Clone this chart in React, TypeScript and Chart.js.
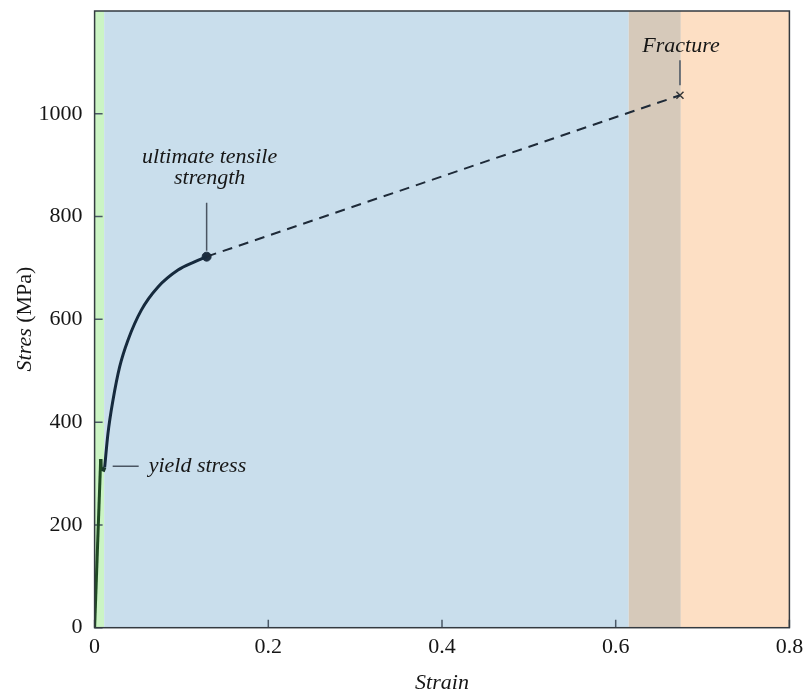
import React, { useEffect, useRef } from "react";
import { Chart, registerables } from "chart.js";

Chart.register(...registerables);

// ---- data ----
const xTickValues = [0, 0.2, 0.4, 0.6, 0.8];
const yTickValues = [0, 200, 400, 600, 800, 1000];
const bandEdges = [0, 0.011, 0.615, 0.675, 0.8];
const bandColors = ["#cbf4c4", "#c9deec", "#d6c9ba", "#fddfc4"];

const elasticStrain = [0, 0.007];
const elasticStress = [0, 328];

const yieldStrain = [0.007, 0.0074, 0.0104, 0.0116];
const yieldStress = [328, 309, 307, 312];

const hardeningStrain = [0.0116, 0.0154, 0.0212, 0.0289, 0.0385, 0.0538, 0.073, 0.096, 0.115, 0.129];
const hardeningStress = [312, 378, 443, 508, 560, 618, 663, 696, 712, 722];

const neckingStrain = [0.129, 0.674];
const neckingStress = [722, 1036];

const utsPoint = { strain: 0.129, stress: 722 };
const fracturePoint = { strain: 0.674, stress: 1036 };

const labelUts = ["ultimate tensile", "strength"];
const labelYield = "yield stress";
const labelFracture = "Fracture";
const xTitle = "Strain";
const yTitleItalic = "Stres";
const yTitleRoman = " (MPa)";

const FONT = "'Liberation Serif', 'DejaVu Serif', serif";
const TEXT = "#161616";

const toPts = (xs: number[], ys: number[]) => xs.map((x, i) => ({ x, y: ys[i] }));

const decorPlugin = {
  id: "decor",
  beforeDatasetsDraw(chart: any) {
    const { ctx, chartArea, scales } = chart;
    const xs = scales.x;
    ctx.save();
    for (let i = 0; i < bandColors.length; i++) {
      const x0 = xs.getPixelForValue(bandEdges[i]);
      const x1 = xs.getPixelForValue(bandEdges[i + 1]);
      ctx.fillStyle = bandColors[i];
      ctx.fillRect(x0, chartArea.top, x1 - x0, chartArea.bottom - chartArea.top);
    }
    // inward ticks
    ctx.strokeStyle = "#4a5866";
    ctx.lineWidth = 1.5;
    ctx.beginPath();
    yTickValues.forEach((v) => {
      const y = scales.y.getPixelForValue(v);
      ctx.moveTo(chartArea.left, y);
      ctx.lineTo(chartArea.left + 8, y);
    });
    xTickValues.forEach((v) => {
      const x = xs.getPixelForValue(v);
      ctx.moveTo(x, chartArea.bottom);
      ctx.lineTo(x, chartArea.bottom - 8);
    });
    ctx.stroke();
    ctx.restore();
  },
  afterDatasetsDraw(chart: any) {
    const { ctx, chartArea, scales } = chart;
    const xs = scales.x;
    const ys = scales.y;
    ctx.save();
    // frame
    ctx.strokeStyle = "#333a40";
    ctx.lineWidth = 1.5;
    ctx.strokeRect(chartArea.left, chartArea.top, chartArea.right - chartArea.left, chartArea.bottom - chartArea.top);

    // leaders
    ctx.strokeStyle = "#4a5562";
    ctx.lineWidth = 1.5;
    const ux = xs.getPixelForValue(utsPoint.strain);
    const uy = ys.getPixelForValue(utsPoint.stress);
    const fx = xs.getPixelForValue(fracturePoint.strain);
    const fy = ys.getPixelForValue(fracturePoint.stress);
    const yx = xs.getPixelForValue(hardeningStrain[0]);
    const yy = ys.getPixelForValue(hardeningStress[0]);
    ctx.beginPath();
    ctx.moveTo(ux, uy - 6);
    ctx.lineTo(ux, uy - 54);
    ctx.moveTo(fx, fy - 10);
    ctx.lineTo(fx, fy - 35);
    ctx.moveTo(yx + 8, yy - 1);
    ctx.lineTo(yx + 34, yy - 1);
    ctx.stroke();

    // annotation text
    ctx.fillStyle = TEXT;
    ctx.font = `italic 22px ${FONT}`;
    ctx.textAlign = "center";
    ctx.textBaseline = "middle";
    ctx.fillText(labelUts[0], ux + 3, uy - 99);
    ctx.fillText(labelUts[1], ux + 3, uy - 78);
    ctx.fillText(labelFracture, fx + 1, fy - 49);
    ctx.textAlign = "left";
    ctx.fillText(labelYield, yx + 44, yy - 1);

    // axis titles
    ctx.textAlign = "center";
    ctx.fillText(xTitle, (chartArea.left + chartArea.right) / 2, 683);

    ctx.save();
    ctx.translate(25, 319);
    ctx.rotate(-Math.PI / 2);
    ctx.font = `italic 22px ${FONT}`;
    const w1 = ctx.measureText(yTitleItalic).width;
    ctx.font = `22px ${FONT}`;
    const w2 = ctx.measureText(yTitleRoman).width;
    const start = -(w1 + w2) / 2;
    ctx.textAlign = "left";
    ctx.font = `italic 22px ${FONT}`;
    ctx.fillText(yTitleItalic, start, 0);
    ctx.font = `22px ${FONT}`;
    ctx.fillText(yTitleRoman, start + w1, 0);
    ctx.restore();

    ctx.restore();
  },
};

export default function App() {
  const ref = useRef<HTMLCanvasElement | null>(null);
  useEffect(() => {
    if (!ref.current) return;
    const chart = new Chart(ref.current, {
      type: "scatter",
      data: {
        datasets: [
          {
            data: toPts(elasticStrain, elasticStress),
            showLine: true,
            borderColor: "#1f4a22",
            borderWidth: 3,
            pointRadius: 0,
          },
          {
            data: toPts(yieldStrain, yieldStress),
            showLine: true,
            borderColor: "#1b3a2c",
            borderWidth: 3.5,
            pointRadius: 0,
          },
          {
            data: toPts(hardeningStrain, hardeningStress),
            showLine: true,
            borderColor: "#162a3d",
            borderWidth: 3,
            pointRadius: 0,
            cubicInterpolationMode: "monotone",
          },
          {
            data: toPts(neckingStrain, neckingStress),
            showLine: true,
            borderColor: "#1e2a38",
            borderWidth: 2,
            borderDash: [10, 7],
            pointRadius: 0,
          },
          {
            data: [{ x: utsPoint.strain, y: utsPoint.stress }],
            pointRadius: 4.5,
            pointBackgroundColor: "#1d2e40",
            pointBorderColor: "#1d2e40",
          },
          {
            data: [{ x: fracturePoint.strain, y: fracturePoint.stress }],
            pointStyle: "crossRot",
            pointRadius: 5,
            pointBorderColor: "#3a3a3a",
            pointBorderWidth: 1.5,
          },
        ],
      } as any,
      options: {
        responsive: false,
        animation: false,
        events: [],
        layout: { padding: { left: 0, right: 15.6, top: 11, bottom: 0 } },
        plugins: { legend: { display: false }, tooltip: { enabled: false } },
        scales: {
          x: {
            type: "linear",
            min: 0,
            max: 0.8,
            afterBuildTicks: (s: any) => {
              s.ticks = xTickValues.map((v) => ({ value: v }));
            },
            afterFit: (s: any) => {
              s.height = 67.3;
              s.paddingLeft = 0;
              s.paddingRight = 0;
            },
            grid: { display: false, drawTicks: false },
            border: { display: false },
            ticks: {
              padding: 6,
              color: TEXT,
              font: { family: FONT, size: 22 },
              maxRotation: 0,
              callback: (v: any) => String(v),
            },
          },
          y: {
            type: "linear",
            min: 0,
            max: 1200,
            afterBuildTicks: (s: any) => {
              s.ticks = yTickValues.map((v) => ({ value: v }));
            },
            afterFit: (s: any) => {
              s.width = 94.6;
              s.paddingTop = 0;
              s.paddingBottom = 0;
            },
            grid: { display: false, drawTicks: false },
            border: { display: false },
            ticks: {
              padding: 12,
              color: TEXT,
              font: { family: FONT, size: 22 },
              callback: (v: any) => String(v),
            },
          },
        },
      } as any,
      plugins: [decorPlugin],
    });
    return () => chart.destroy();
  }, []);
  return (
    <div style={{ position: "absolute", left: 0, top: 0, width: 805, height: 695, background: "#fff" }}>
      <canvas ref={ref} width={805} height={695} style={{ display: "block" }} />
    </div>
  );
}
